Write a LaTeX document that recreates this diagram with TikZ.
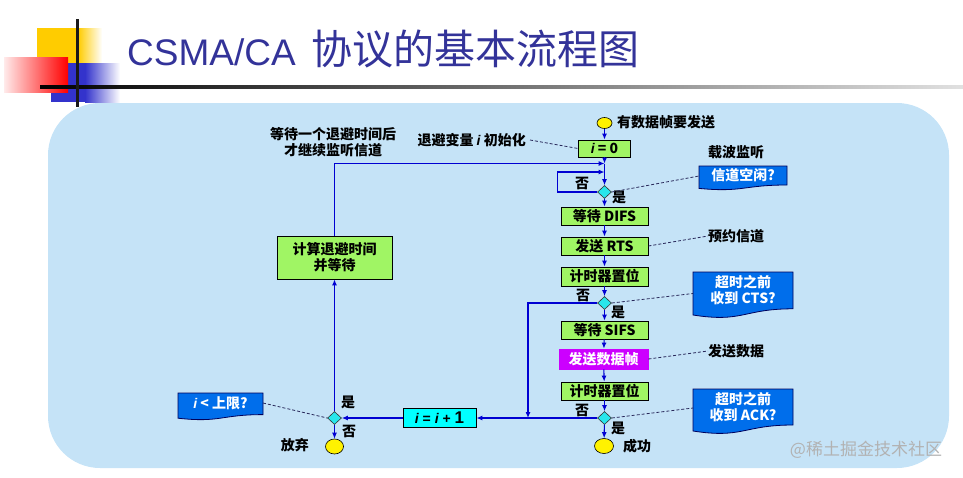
\documentclass[tikz,border=0pt]{standalone}
\usepackage{fontspec}
\setmainfont{Liberation Sans}
\newfontfamily\cjk{Noto Sans CJK SC}
\newfontfamily\lsans{Liberation Sans}
\usetikzlibrary{arrows.meta,shapes.geometric,calc}
\definecolor{panelblue}{RGB}{197,227,247}
\definecolor{procgreen}{RGB}{160,245,100}
\definecolor{framemag}{RGB}{204,0,255}
\definecolor{incyan}{RGB}{0,255,255}
\definecolor{diacyan}{RGB}{40,230,235}
\definecolor{flowblue}{RGB}{0,0,210}
\definecolor{callblue}{RGB}{0,110,235}
\definecolor{callnavy}{RGB}{0,0,90}
\definecolor{titleblue}{RGB}{51,51,153}
\definecolor{sqyellow}{RGB}{255,204,0}
\definecolor{sqblue}{RGB}{51,51,204}
\definecolor{dashcol}{RGB}{40,40,90}
\newcommand\ivar{{\lsans\bfseries\itshape i}}
\tikzset{
  txt/.style={inner sep=0pt, font={\cjk\bfseries\fontsize{14}{16}\selectfont}},
  proc/.style={draw=black, line width=0.8pt, fill=procgreen, minimum height=18pt, inner sep=0pt, font={\cjk\bfseries\fontsize{14}{16}\selectfont}},
  dec/.style={diamond, draw=black!80, fill=diacyan, minimum width=14pt, minimum height=13pt, inner sep=0pt, line width=0.6pt},
  term/.style={ellipse, draw=black, fill=yellow, inner sep=0pt, line width=0.6pt},
  conn/.style={draw=flowblue, line width=1.1pt, -{Latex[length=6pt,width=5pt]}},
  dline/.style={draw=dashcol, line width=0.8pt, dash pattern=on 3pt off 2pt},
  callout/.style={draw=callnavy, line width=0.8pt, fill=callblue},
  ctxt/.style={inner sep=0pt, text=white, align=center, font={\cjk\bfseries\fontsize{14}{16}\selectfont}},
}
\begin{document}
\begin{tikzpicture}[x=1pt,y=-1pt]
\useasboundingbox (0,0) rectangle (963,477);
% header decoration
\fill[sqyellow] (37,28) rectangle (78,63);
\shade[left color=sqyellow, right color=white] (78,28) rectangle (102,63);
\fill[sqblue] (51,63) rectangle (85,102);
\shade[left color=sqblue, right color=white] (85,63) rectangle (120,102);
\shade[left color=red!8, right color=red] (4,57) rectangle (68,92);
\shade[left color=black, right color=black!12] (40,85.5) rectangle (963,88.5);
\fill[black!90] (75.5,19) rectangle (78.5,107);
\node[anchor=base west, inner sep=0pt, text=titleblue, font={\lsans\fontsize{37}{40}\selectfont}] (tlat) at (127,65) {CSMA/CA};
\node[anchor=base west, inner sep=0pt, text=titleblue, font={\cjk\fontsize{41}{44}\selectfont}] (tcjk) at (311,64) {协议的基本流程图};
% panel
\fill[panelblue, rounded corners=52pt] (48,103) rectangle (949,468);
% main column
\node[term, minimum width=15pt, minimum height=11pt] (start) at (604.5,123) {};
\node[txt, anchor=west] (startl) at (617,122) {有数据帧要发送};
\node[proc, minimum width=52pt, minimum height=17pt] (i0) at (604.5,148.5) {\ivar{} = 0};
\node[txt, anchor=east] (initl) at (526,140) {退避变量 \ivar{} 初始化};
\coordinate (j1) at (604.5,163.5);
\coordinate (j2) at (604.5,172);
\node[dec] (d1) at (604.5,192) {};
\node[proc, minimum width=87pt] (difs) at (604.5,216) {等待 DIFS};
\node[proc, minimum width=87pt] (rts) at (604.5,246) {发送 RTS};
\node[proc, minimum width=87pt, minimum height=19pt] (t1) at (604.5,276.5) {计时器置位};
\node[dec] (d2) at (604.5,303) {};
\node[proc, minimum width=87pt] (sifs) at (604.5,330) {等待 SIFS};
\node[proc, draw=framemag, fill=framemag, text=white, minimum width=89pt, minimum height=20pt] (data) at (603.5,359) {发送数据帧};
\node[proc, minimum width=87pt] (t2) at (604.5,391) {计时器置位};
\node[dec] (d3) at (604.5,418) {};
\node[term, minimum width=19pt, minimum height=15pt] (succ) at (604,446) {};
\node[txt, anchor=west] (succl) at (623,446) {成功};
% left column
\node[proc, minimum width=115pt, minimum height=43pt, align=center] (bk) at (334.5,257.5) {计算退避时间\\并等待};
\node[txt, align=center] (bkl) at (333,142.5) {等待一个退避时间后\\才继续监听信道};
\node[proc, fill=incyan, minimum width=73pt, minimum height=19pt, font={\lsans\bfseries\fontsize{14}{16}\selectfont}] (inc) at (439.5,418) {\ivar{} = \ivar{} + {\fontsize{17}{18}\selectfont 1}};
\node[dec] (d4) at (334.5,418) {};
\node[term, minimum width=18pt, minimum height=15pt] (aband) at (334.5,446.5) {};
\node[txt, anchor=east] (abandl) at (309,445) {放弃};
\coordinate (j3) at (528,418);
% connectors
\draw[conn] (start) -- (i0);
\draw[conn] (i0) -- (j1);
\draw[conn] (j1) -- (d1);
\draw[conn] (d1) -- (difs);
\draw[conn] (difs) -- (rts);
\draw[conn] (rts) -- (t1);
\draw[conn] (t1) -- (d2);
\draw[conn] (d2) -- (sifs);
\draw[conn] (sifs) -- (data);
\draw[conn] (data) -- (t2);
\draw[conn] (t2) -- (d3);
\draw[conn] (d3) -- (succ);
\draw[conn] (d1.west) -- ++(-40,0) |- (j2);
\draw[conn] (bk.north) |- (j1);
\draw[conn] (d2.west) -| (j3);
\draw[conn] (d3.west) -- (inc.east);
\draw[conn] (inc.west) -- (d4.east);
\draw[conn] (d4.north) -- (bk.south);
\draw[conn] (d4.south) -- (aband);
% yes/no labels
\node[txt] (n1) at (582,183) {否};
\node[txt] (y1) at (619,197) {是};
\node[txt] (n2) at (583,295) {否};
\node[txt] (y2) at (618,312) {是};
\node[txt] (n3) at (582,410) {否};
\node[txt] (y3) at (618,428) {是};
\node[txt] (y4) at (348,402) {是};
\node[txt] (n4) at (349,431) {否};
% callouts
\draw[callout] (699,166) -- (787,166) -- (787,185) .. controls (743,185) and (743,192.6) .. (699,188.4) -- cycle;
\node[ctxt] (c1) at (743,175.5) {信道空闲?};
\coordinate (c1a) at (699,176);
\draw[callout] (693,272) -- (793,272) -- (793,308.8) .. controls (743,308.8) and (743,322.9) .. (693,315) -- cycle;
\node[ctxt] (c2) at (743,290.5) {超时之前\\收到 CTS?};
\coordinate (c2a) at (693,293.5);
\draw[callout] (693,389) -- (793,389) -- (793,425) .. controls (743,425) and (743,438.8) .. (693,431) -- cycle;
\node[ctxt] (c3) at (743,407) {超时之前\\收到 ACK?};
\coordinate (c3a) at (693,408);
\draw[callout] (178,393) -- (263,393) -- (263,414.6) .. controls (220.5,414.6) and (220.5,422.9) .. (178,418.2) -- cycle;
\node[ctxt] (c4) at (220.5,403) {\ivar{} < 上限?};
\coordinate (c4a) at (263,403);
% side labels
\node[txt] (carrier) at (736,152) {载波监听};
\node[txt, anchor=west] (reserve) at (708,236) {预约信道};
\node[txt, anchor=west] (senddata) at (708,351) {发送数据};
% dashed leaders
\draw[dline] (initl.east) ++(4,0) coordinate (il) -- (i0.west);
\draw[dline] (d1.east) -- (c1a);
\draw[dline] (rts.east) -- (reserve.west);
\draw[dline] (d2.east) -- (c2a);
\draw[dline] (data.east) -- (senddata.west);
\draw[dline] (d3.east) -- (c3a);
\draw[dline] (c4a) -- (d4.west);
% watermark
\node[inner sep=0pt, text=black!30, font={\cjk\fontsize{17}{18}\selectfont}] (wm) at (866,450) {@稀土掘金技术社区};
\end{tikzpicture}
\end{document}
